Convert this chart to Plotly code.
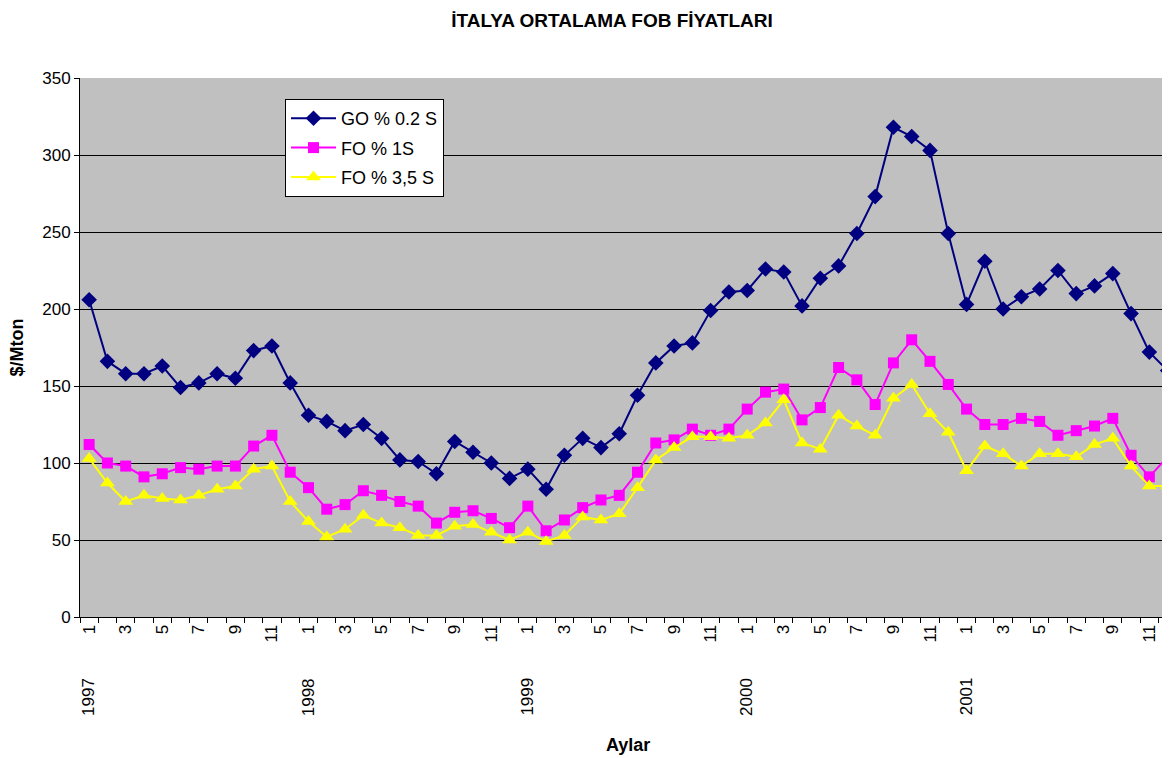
import plotly.graph_objects as go

months = list(range(1, 61))
years = ["1997", "1998", "1999", "2000", "2001"]
month_tick_vals = [m for m in months if m % 2 == 1]
month_tick_text = [str((m - 1) % 12 + 1) for m in month_tick_vals]

go_02 = [206, 166, 158, 158, 163, 149, 152, 158, 155, 173,
         176, 152, 131, 127, 121, 125, 116, 102, 101, 93,
         114, 107, 100, 90, 96, 83, 105, 116, 110, 119,
         144, 165, 176, 178, 199, 211, 212, 226, 224, 202,
         220, 228, 249, 273, 318, 312, 303, 249, 203, 231,
         200, 208, 213, 225, 210, 215, 223, 197, 172, 160]
fo_1 = [112, 100, 98, 91, 93, 97, 96, 98, 98, 111,
        118, 94, 84, 70, 73, 82, 79, 75, 72, 61,
        68, 69, 64, 58, 72, 56, 63, 71, 76, 79,
        94, 113, 115, 122, 118, 122, 135, 146, 148, 128,
        136, 162, 154, 138, 165, 180, 166, 151, 135, 125,
        125, 129, 127, 118, 121, 124, 129, 105, 91, 104]
fo_35 = [103, 87, 75, 79, 77, 76, 79, 83, 85, 96,
         98, 75, 62, 52, 57, 66, 61, 58, 53, 53,
         59, 60, 55, 50, 55, 49, 53, 65, 63, 67,
         84, 102, 110, 117, 117, 116, 118, 126, 141, 113,
         109, 131, 124, 118, 142, 151, 132, 120, 95, 111,
         106, 98, 106, 106, 104, 112, 116, 98, 85, 85]

FONT = "Liberation Sans, Arial, sans-serif"
W, H = 1162, 750  # page body has an 8px margin

fig = go.Figure()
fig.add_trace(go.Scatter(x=months, y=go_02, name="GO % 0.2 S", mode="lines+markers",
                         legendgroup="a",
                         line=dict(color="#000080", width=2),
                         marker=dict(symbol="diamond", size=12, color="#000080")))
fig.add_trace(go.Scatter(x=months, y=fo_1, name="FO % 1S", mode="lines+markers",
                         legendgroup="b",
                         line=dict(color="#FF00FF", width=2),
                         marker=dict(symbol="square", size=11, color="#FF00FF")))
fig.add_trace(go.Scatter(x=months, y=fo_35, name="FO % 3,5 S", mode="lines+markers",
                         legendgroup="c",
                         line=dict(color="#FFFF00", width=2),
                         marker=dict(symbol="triangle-up", size=13, color="#FFFF00")))

annotations = []
for i, yr in enumerate(years):
    annotations.append(dict(x=1 + 12 * i, y=-0.148, xref="x", yref="paper", text=yr,
                            textangle=-90, showarrow=False, xanchor="center", yanchor="middle",
                            font=dict(family=FONT, size=17, color="black")))
annotations.append(dict(x=(628 - 80) / 1090, y=(617 - 745) / 539, xref="paper", yref="paper",
                        text="<b>Aylar</b>", showarrow=False, xanchor="center", yanchor="middle",
                        font=dict(family=FONT, size=18, color="black")))
annotations.append(dict(x=(16 - 80) / 1090, y=0.5, xref="paper", yref="paper",
                        text="<b>$/Mton</b>", textangle=-90, showarrow=False,
                        xanchor="center", yanchor="middle",
                        font=dict(family=FONT, size=18, color="black")))

fig.update_layout(
    width=W, height=H,
    margin=dict(l=72, r=0, t=70, b=141),
    paper_bgcolor="white", plot_bgcolor="#C0C0C0",
    font=dict(family=FONT, size=17, color="black"),
    title=dict(text="<b>İTALYA ORTALAMA FOB FİYATLARI</b>", x=604 / W, xanchor="center",
               xref="container", y=1 - 12 / H, yanchor="middle", yref="container",
               font=dict(family=FONT, size=19, color="black")),
    showlegend=True,
    legend=dict(x=(285 - 80) / 1090, y=(617 - 99) / 539, xanchor="left", yanchor="top",
                bgcolor="white", bordercolor="black", borderwidth=1,
                font=dict(family=FONT, size=18, color="black"),
                itemwidth=45, tracegroupgap=3),
    annotations=annotations,
    xaxis=dict(range=[0.5, 60.13], tickmode="array", tickvals=month_tick_vals,
               ticktext=month_tick_text, tickangle=-90, ticks="", showgrid=False,
               showline=True, linecolor="black", linewidth=1, zeroline=False,
               tickfont=dict(family=FONT, size=17, color="black"),
               minor=dict(ticks="outside", tickmode="linear", tick0=0.5, dtick=1,
                          ticklen=5, tickcolor="black", showgrid=False)),
    yaxis=dict(range=[0, 350], dtick=50, tick0=0, showgrid=True, gridcolor="black",
               gridwidth=1, ticks="outside", ticklen=5, tickcolor="black",
               showline=True, linecolor="black", linewidth=1, zeroline=False,
               tickfont=dict(family=FONT, size=17, color="black")),
)

fig.write_html("out.html")
